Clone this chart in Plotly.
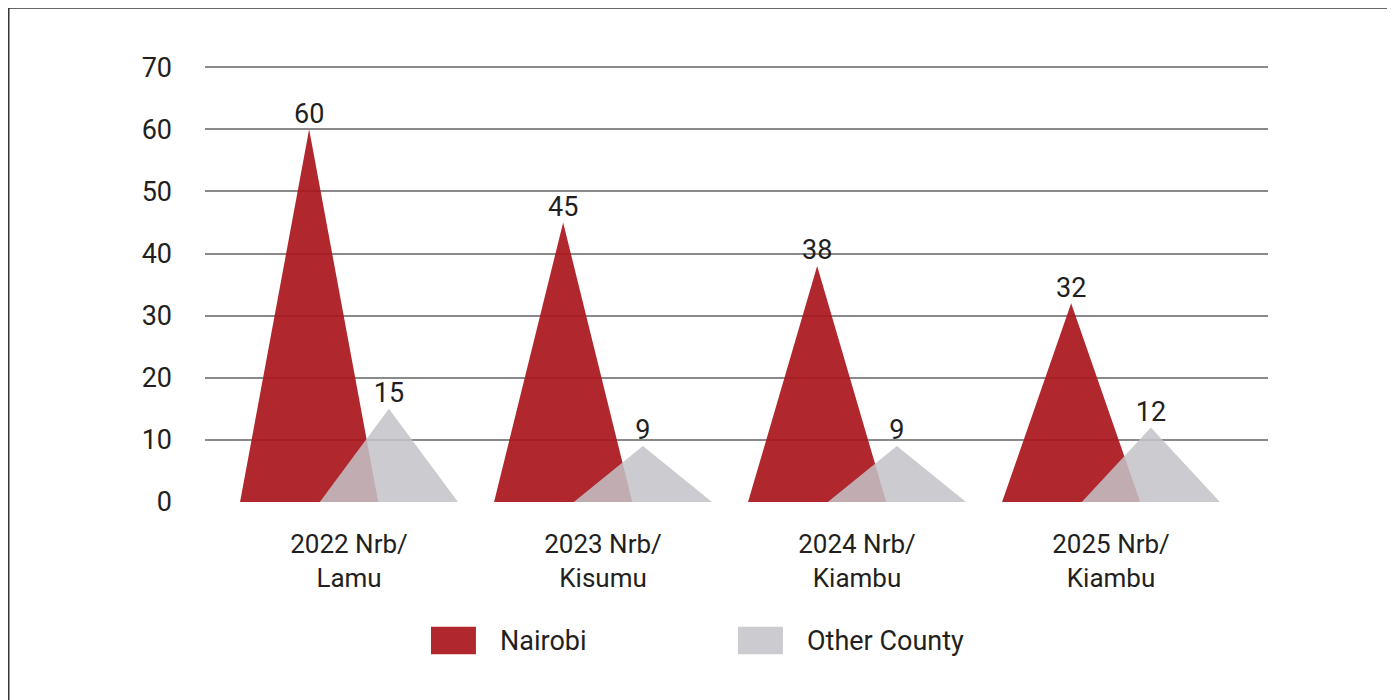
import plotly.graph_objects as go

categories = ["2022 Nrb/<br>Lamu", "2023 Nrb/<br>Kisumu", "2024 Nrb/<br>Kiambu", "2025 Nrb/<br>Kiambu"]
nairobi = [60, 45, 38, 32]
other_county = [15, 9, 9, 12]
y_ticks = [0, 10, 20, 30, 40, 50, 60, 70]

RED = "rgba(169,22,28,0.92)"
GREY = "rgba(195,195,200,0.85)"
FONT = "Roboto, Inter, sans-serif"
TXT = "#231f20"

HALF = 0.272   # half base width of each triangle (category units)
OFF = 0.157    # offset of each series from the category centre

fig = go.Figure()


def add_series(values, offset, color, name):
    xs, ys = [], []
    for i, v in enumerate(values):
        c = i + offset
        xs += [c - HALF, c, c + HALF, c - HALF, None]
        ys += [0, v, 0, 0, None]
    fig.add_trace(go.Scatter(x=xs, y=ys, mode="lines", fill="toself",
                             fillcolor=color, line=dict(width=0, color=color),
                             name=name, showlegend=False, hoverinfo="skip"))
    fig.add_trace(go.Scatter(x=[i + offset for i in range(len(values))], y=values,
                             mode="text", text=[str(v) for v in values],
                             textposition="top center",
                             textfont=dict(family=FONT, size=27, color=TXT),
                             showlegend=False, hoverinfo="skip"))


add_series(nairobi, -OFF, RED, "Nairobi")
add_series(other_county, OFF, GREY, "Other County")

fig.update_layout(
    width=1395, height=700,
    margin=dict(l=197, r=135, t=58, b=206),
    paper_bgcolor="white", plot_bgcolor="white",
    font=dict(family=FONT, size=27, color=TXT),
    xaxis=dict(range=[-0.567, 3.618], tickmode="array",
               tickvals=list(range(len(categories))), ticktext=categories,
               showgrid=False, zeroline=False, showline=False, ticks="",
               ticklabelstandoff=24,
               tickfont=dict(family=FONT, size=26, color=TXT)),
    yaxis=dict(range=[0, 70.2], tickmode="array", tickvals=y_ticks,
               showgrid=True, gridcolor="#8a8a8a", gridwidth=1.5,
               zeroline=False, showline=False, ticks="",
               ticklabelstandoff=32,
               tickfont=dict(family=FONT, size=27, color=TXT)),
    showlegend=False,
)

# frame lines (top and left)
fig.add_shape(type="line", xref="paper", yref="paper", x0=-0.1846, x1=1.13,
              y0=1.1333, y1=1.1333, line=dict(color="#333333", width=1.5))
fig.add_shape(type="line", xref="paper", yref="paper", x0=-0.1846, x1=-0.1846,
              y0=1.1333, y1=-0.48, line=dict(color="#333333", width=1.5))

# legend
legend_items = [("Nairobi", RED, 0.2126), ("Other County", GREY, 0.5014)]
for name, color, x0 in legend_items:
    fig.add_shape(type="rect", xref="paper", yref="paper",
                  x0=x0, x1=x0 + 0.0423, y0=-0.3494, y1=-0.2862,
                  fillcolor=color, line=dict(width=0))
    fig.add_annotation(xref="paper", yref="paper", x=x0 + 0.0630, y=-0.3178,
                       text=name, showarrow=False, xanchor="left", yanchor="middle",
                       font=dict(family=FONT, size=27, color=TXT))

fig.write_html("out.html")
